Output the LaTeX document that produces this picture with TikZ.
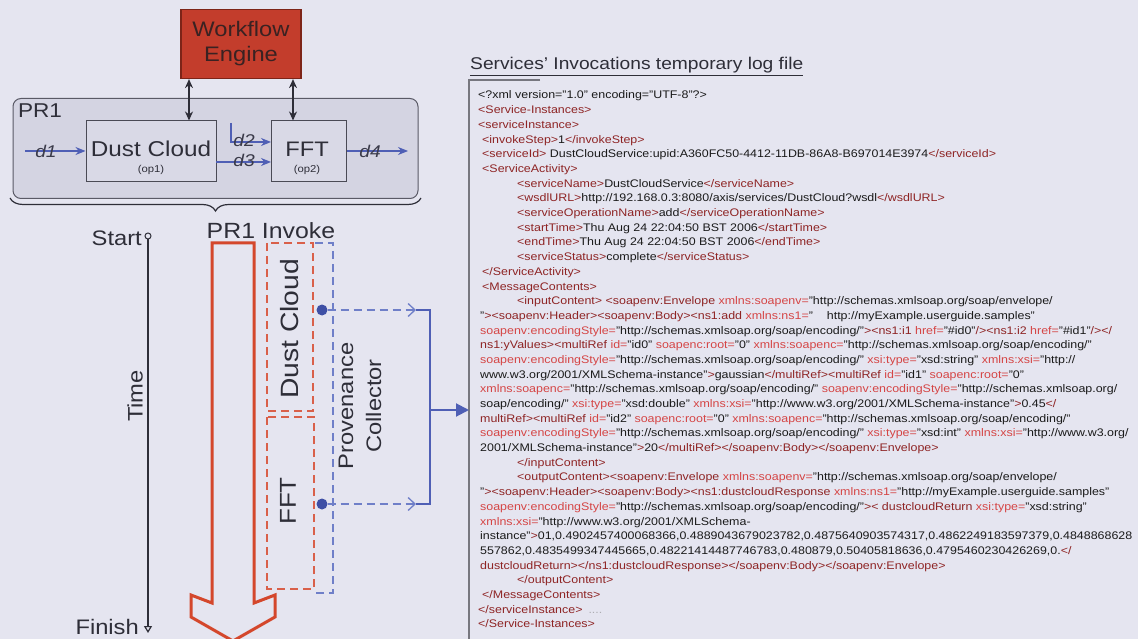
\documentclass[tikz,border=0pt]{standalone}
\usepackage{fontspec}
\setmainfont{Liberation Sans}[FakeStretch=1.13]
\usetikzlibrary{arrows.meta,decorations.pathreplacing}

\definecolor{bg}{HTML}{E5E5F0}
\definecolor{prfill}{HTML}{D4D4E2}
\definecolor{prborder}{HTML}{5A5A66}
\definecolor{opfill}{HTML}{D9D9E6}
\definecolor{opborder}{HTML}{4A4A55}
\definecolor{enginefill}{HTML}{C33D2C}
\definecolor{engineborder}{HTML}{7D2418}
\definecolor{enginetext}{HTML}{3A2222}
\definecolor{flowblue}{HTML}{4F5FB5}
\definecolor{labelgray}{HTML}{3B3B4A}
\definecolor{inkgray}{HTML}{2E2E38}
\definecolor{arrowred}{HTML}{D4472C}
\definecolor{dashred}{HTML}{D9604A}
\definecolor{dashblue}{HTML}{6F7FC8}
\definecolor{dotblue}{HTML}{3E4FA5}
\definecolor{xmltagc}{HTML}{8E2424}
\definecolor{xmlattc}{HTML}{D54545}
\definecolor{xmltextc}{HTML}{1A1A1A}
\definecolor{framegray}{HTML}{77777F}

\newcommand{\xmltag}[1]{\textcolor{xmltagc}{#1}}
\newcommand{\xmlatt}[1]{\textcolor{xmlattc}{#1}}
\newcommand{\fsz}[1]{\fontsize{#1}{#1}\selectfont}

\begin{document}
\begin{tikzpicture}[x=1pt,y=-1pt,
  engine/.style={draw=engineborder, fill=enginefill, line width=1.2pt,
    minimum width=120pt, minimum height=69pt, inner sep=0pt, align=center,
    text=enginetext, font=\fontsize{21}{25}\selectfont},
  prbox/.style={draw=prborder, fill=prfill, line width=1pt, rounded corners=8pt,
    minimum width=405pt, minimum height=100pt, inner sep=0pt},
  opbox/.style={draw=opborder, fill=opfill, line width=1pt, inner sep=0pt},
  bigtext/.style={inner sep=0pt, text=inkgray, font=\fsz{21.5}},
  smalltext/.style={inner sep=0pt, text=inkgray, font=\fsz{10}},
  ctrl/.style={draw=inkgray, line width=1.4pt,
    {Stealth[length=9pt,width=8pt]}-{Stealth[length=9pt,width=8pt]}},
  flow/.style={draw=flowblue, line width=1.2pt, -{Stealth[length=10pt,width=8pt]}},
  dlabel/.style={inner sep=0pt, text=labelgray, font=\itshape\fsz{17}},
  label/.style={inner sep=0pt, text=inkgray, font=\fsz{21}},
  redbox/.style={draw=dashred, line width=1.5pt, dash pattern=on 8pt off 5pt},
  bluebox/.style={draw=dashblue, line width=1.5pt, dash pattern=on 8pt off 5pt},
  feed/.style={draw=dashblue, line width=1.3pt, dash pattern=on 8pt off 5pt,
    -{Straight Barb[length=7pt,width=13pt]}},
  xml/.style={anchor=base west, inner sep=0pt, text=xmltextc, font=\fsz{11}},
]
% canvas
\fill[bg] (0,0) rectangle (1138,639);
\useasboundingbox (0,0) rectangle (1138,639);

% ---------- workflow block ----------
\node[engine] (we) at (241,44) {Workflow\\Engine};
\node[prbox] (pr) at (215.5,148.5) {};
\node[inner sep=0pt, text=inkgray, font=\fsz{20}] (prl) at (40,111) {PR1};

\node[opbox, minimum width=130pt, minimum height=61pt] (dc) at (151,151.5) {};
\node[bigtext] (dct) at (151,149) {Dust Cloud};
\node[smalltext] (dco) at (151,170) {(op1)};

\node[opbox, minimum width=75pt, minimum height=61pt] (fft) at (308.5,151.5) {};
\node[bigtext, font=\fsz{21}] (fftt) at (307,149) {FFT};
\node[smalltext] (ffto) at (307,170) {(op2)};

% engine <-> operations
\coordinate (cx1) at (189,0);
\coordinate (cx2) at (293,0);
\draw[ctrl] (we.south -| cx1) -- (dc.north -| cx1);
\draw[ctrl] (we.south -| cx2) -- (fft.north -| cx2);

% data flows
\coordinate (d1s) at (25,151);
\coordinate (d2s) at (231,123);
\coordinate (d2e) at (271,142);
\coordinate (d3s) at (216,162);
\coordinate (d3e) at (271,162);
\coordinate (d4e) at (408,151);
\draw[flow] (d1s) -- (dc.west |- d1s);
\draw[flow] (d2s) |- (d2e);
\draw[flow] (d3s) -- (d3e);
\draw[flow] (fft.east |- d4e) -- (d4e);
\node[dlabel] (d1) at (46,151) {d1};
\node[dlabel] (d2) at (244,140) {d2};
\node[dlabel] (d3) at (244,160) {d3};
\node[dlabel] (d4) at (370,151) {d4};

% brace under the process
\draw[draw=inkgray, line width=1.2pt, decorate,
  decoration={brace, amplitude=13pt, mirror}] (10,198) -- (421,198);

% ---------- timeline ----------
\node[draw=inkgray, line width=1pt, circle, inner sep=0pt, minimum size=6pt] (st) at (148,236) {};
\coordinate (fin) at (148,633);
\draw[draw=inkgray, line width=1.2pt, -{Triangle[open,length=7pt,width=8pt]}] (st.south) -- (fin);
\node[label, anchor=east] (start) at (142,238) {Start};
\node[label, anchor=east] (finish) at (139,627) {Finish};
\node[label, rotate=90] (time) at (135,396) {Time};

% invocation arrow
\node[label, font=\fsz{22}] (inv) at (271,231) {PR1 Invoke};
\draw[draw=arrowred, line width=3pt, line join=miter]
  (212,243) -- (254,243) -- (254,603) -- (275,595) -- (275,617) -- (233,641)
  -- (191,617) -- (191,595) -- (212,603) -- cycle;

% per-service intervals
\draw[redbox] (267,243) rectangle (313,411);
\draw[redbox] (267,417) rectangle (314,589);
\draw[bluebox] (315,243) -- (333,243) -- (333,593) -- (316,593);
\node[label, rotate=90, font=\fsz{25}] (dcv) at (290,329) {Dust Cloud};
\node[label, rotate=90, font=\fsz{23}] (fftv) at (288,501) {FFT};
\node[label, rotate=90, align=center, font=\fontsize{21}{28}\selectfont] (pc) at (360,406) {Provenance\\Collector};

% provenance capture
\node[circle, fill=dotblue, inner sep=0pt, minimum size=11pt] (p1) at (322,310) {};
\node[circle, fill=dotblue, inner sep=0pt, minimum size=11pt] (p2) at (322,504) {};
\coordinate (a1) at (416,310);
\coordinate (a2) at (416,504);
\coordinate (j1) at (430,310);
\coordinate (j2) at (430,504);
\coordinate (jm) at (430,410);
\draw[feed] (p1) -- (a1);
\draw[feed] (p2) -- (a2);
\draw[draw=flowblue, line width=2pt] (a1) -- (j1) -- (j2) -- (a2);

% ---------- log file ----------
\node[inner sep=0pt, anchor=base west, text=inkgray, font=\fsz{17}] (ttl) at (470,70)
  {\underline{Services' Invocations temporary log file}};
\coordinate (fr1) at (540,80);
\coordinate (fr2) at (469,80);
\coordinate (fr3) at (469,645);
\draw[draw=framegray, line width=1.2pt] (fr1) -- (fr2) -- (fr3);
\draw[draw=flowblue, line width=2pt, -{Triangle[length=13pt,width=13pt]}] (jm) -- (jm -| fr2);

\node[xml] (l1) at (478,99) {<?xml version="1.0" encoding="UTF-8"?>};
\node[xml] (l2) at (478,113.7) {\xmltag{<Service-Instances>}};
\node[xml] (l3) at (478,128.4) {\xmltag{<serviceInstance>}};
\node[xml] (l4) at (482,143.1) {\xmltag{<invokeStep>}1\xmltag{</invokeStep>}};
\node[xml] (l5) at (482,157.8) {\xmltag{<serviceId>} DustCloudService:upid:A360FC50-4412-11DB-86A8-B697014E3974\xmltag{</serviceId>}};
\node[xml] (l6) at (482,172.5) {\xmltag{<ServiceActivity>}};
\node[xml] (l7) at (517,187.1) {\xmltag{<serviceName>}DustCloudService\xmltag{</serviceName>}};
\node[xml] (l8) at (517,201.8) {\xmltag{<wsdlURL>}http://192.168.0.3:8080/axis/services/DustCloud?wsdl\xmltag{</wsdlURL>}};
\node[xml] (l9) at (517,216.5) {\xmltag{<serviceOperationName>}add\xmltag{</serviceOperationName>}};
\node[xml] (l10) at (517,231.2) {\xmltag{<startTime>}Thu Aug 24 22:04:50 BST 2006\xmltag{</startTime>}};
\node[xml] (l11) at (517,245.9) {\xmltag{<endTime>}Thu Aug 24 22:04:50 BST 2006\xmltag{</endTime>}};
\node[xml] (l12) at (517,260.6) {\xmltag{<serviceStatus>}complete\xmltag{</serviceStatus>}};
\node[xml] (l13) at (482,275.3) {\xmltag{</ServiceActivity>}};
\node[xml] (l14) at (482,290.0) {\xmltag{<MessageContents>}};
\node[xml] (l15) at (517,304.7) {\xmltag{<inputContent>} \xmltag{<soapenv:Envelope} \xmlatt{xmlns:soapenv=}"http://schemas.xmlsoap.org/soap/envelope/};
\node[xml] (l16) at (480,319.4) {"\xmltag{><soapenv:Header><soapenv:Body><ns1:add} \xmlatt{xmlns:ns1=}"\hspace{14pt}http://myExample.userguide.samples"};
\node[xml] (l17) at (480,334.0) {\xmlatt{soapenv:encodingStyle=}"http://schemas.xmlsoap.org/soap/encoding/"\xmltag{><ns1:i1} \xmlatt{href=}"\#id0"\xmltag{/><ns1:i2} \xmlatt{href=}"\#id1"\xmltag{/></}};
\node[xml] (l18) at (480,348.7) {\xmltag{ns1:yValues><multiRef} \xmlatt{id=}"id0" \xmlatt{soapenc:root=}"0" \xmlatt{xmlns:soapenc=}"http://schemas.xmlsoap.org/soap/encoding/"};
\node[xml] (l19) at (480,363.4) {\xmlatt{soapenv:encodingStyle=}"http://schemas.xmlsoap.org/soap/encoding/" \xmlatt{xsi:type=}"xsd:string" \xmlatt{xmlns:xsi=}"http://};
\node[xml] (l20) at (480,378.1) {www.w3.org/2001/XMLSchema-instance"\xmltag{>}gaussian\xmltag{</multiRef><multiRef} \xmlatt{id=}"id1" \xmlatt{soapenc:root=}"0"};
\node[xml] (l21) at (480,392.8) {\xmlatt{xmlns:soapenc=}"http://schemas.xmlsoap.org/soap/encoding/" \xmlatt{soapenv:encodingStyle=}"http://schemas.xmlsoap.org/};
\node[xml] (l22) at (480,407.5) {soap/encoding/" \xmlatt{xsi:type=}"xsd:double" \xmlatt{xmlns:xsi=}"http://www.w3.org/2001/XMLSchema-instance"\xmltag{>}0.45\xmltag{</}};
\node[xml] (l23) at (480,422.2) {\xmltag{multiRef><multiRef} \xmlatt{id=}"id2" \xmlatt{soapenc:root=}"0" \xmlatt{xmlns:soapenc=}"http://schemas.xmlsoap.org/soap/encoding/"};
\node[xml] (l24) at (480,436.9) {\xmlatt{soapenv:encodingStyle=}"http://schemas.xmlsoap.org/soap/encoding/" \xmlatt{xsi:type=}"xsd:int" \xmlatt{xmlns:xsi=}"http://www.w3.org/};
\node[xml] (l25) at (480,451.6) {2001/XMLSchema-instance"\xmltag{>}20\xmltag{</multiRef></soapenv:Body></soapenv:Envelope>}};
\node[xml] (l26) at (517,466.2) {\xmltag{</inputContent>}};
\node[xml] (l27) at (517,480.9) {\xmltag{<outputContent><soapenv:Envelope} \xmlatt{xmlns:soapenv=}"http://schemas.xmlsoap.org/soap/envelope/};
\node[xml] (l28) at (480,495.6) {"\xmltag{><soapenv:Header><soapenv:Body><ns1:dustcloudResponse} \xmlatt{xmlns:ns1=}"http://myExample.userguide.samples"};
\node[xml] (l29) at (480,510.3) {\xmlatt{soapenv:encodingStyle=}"http://schemas.xmlsoap.org/soap/encoding/"\xmltag{>< dustcloudReturn} \xmlatt{xsi:type=}"xsd:string"};
\node[xml] (l30) at (480,525.0) {\xmlatt{xmlns:xsi=}"http://www.w3.org/2001/XMLSchema-};
\node[xml] (l31) at (480,539.7) {instance"\xmltag{>}01,0.4902457400068366,0.4889043679023782,0.4875640903574317,0.4862249183597379,0.4848868628};
\node[xml] (l32) at (480,554.4) {557862,0.4835499347445665,0.48221414487746783,0.480879,0.50405818636,0.4795460230426269,0.\xmltag{</}};
\node[xml] (l33) at (480,569.1) {\xmltag{dustcloudReturn></ns1:dustcloudResponse></soapenv:Body></soapenv:Envelope>}};
\node[xml] (l34) at (517,583.8) {\xmltag{</outputContent>}};
\node[xml] (l35) at (482,598.4) {\xmltag{</MessageContents>}};
\node[xml] (l36) at (478,613.1) {\xmltag{</serviceInstance>}\hspace{6pt}\textcolor{framegray!60}{....}};
\node[xml] (l37) at (478,627.8) {\xmltag{</Service-Instances>}};
\end{tikzpicture}
\end{document}
